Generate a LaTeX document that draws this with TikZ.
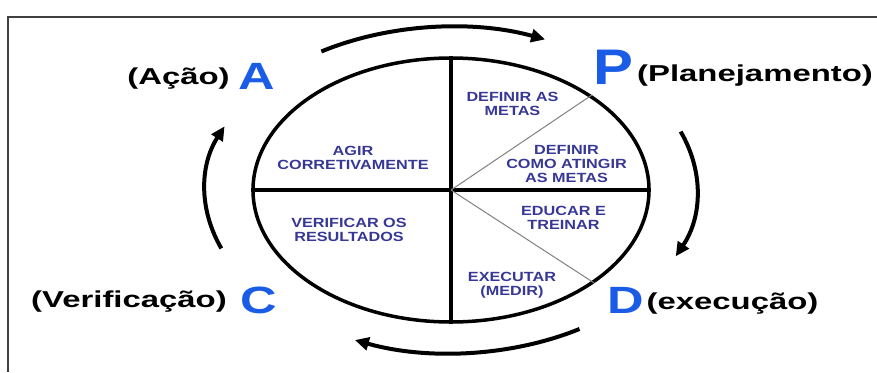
\documentclass[tikz,border=0pt]{standalone}
\usepackage{fontspec}
\setmainfont{Liberation Sans}
\usetikzlibrary{arrows.meta,shapes.geometric,calc}
\definecolor{bigblue}{RGB}{26,92,230}
\definecolor{navytext}{RGB}{55,55,150}
\begin{document}
\begin{tikzpicture}[x=1pt,y=1pt,
  inner/.style={font=\bfseries\fontsize{13.3}{14}\selectfont, text=navytext, align=center, xscale=1.22, inner sep=0pt},
  lbl/.style={font=\bfseries\fontsize{23}{25}\selectfont, xscale=1.43, inner sep=0pt},
  big/.style={font=\bfseries\fontsize{38}{40}\selectfont, text=bigblue, xscale=1.33, inner sep=0pt},
  cyc/.style={line width=4pt, -{Triangle[length=14pt,width=13pt]}},
  bold line/.style={line width=3.5pt},
  split line/.style={line width=1pt, gray}]
\useasboundingbox (0,0) rectangle (877,-372);
% frame
\coordinate (f1) at (8,-372);
\coordinate (f2) at (8,-17);
\coordinate (f3) at (877,-17);
\draw[line width=1.5pt, black!75] (f1) -- (f2) -- (f3);
% circle
\coordinate (c) at (451,-190);
\node[draw, ellipse, bold line, minimum width=396pt, minimum height=264pt, inner sep=0pt] (E) at (c) {};
\draw[bold line] (E.north) -- (E.south);
\draw[bold line] (E.west) -- (E.east);
\draw[split line] (E.center) -- (E.34);
\draw[split line] (E.center) -- (E.-33.5);
% inner texts
\node[inner] (t1) at (512.5,-103.5) {DEFINIR AS\\METAS};
\node[inner] (t2) at (566.5,-163.5) {DEFINIR\\COMO ATINGIR\\AS METAS};
\node[inner] (t3) at (563.5,-218) {EDUCAR E\\TREINAR};
\node[inner] (t4) at (512,-285) {EXECUTAR\\(MEDIR)};
\node[inner] (t5) at (353,-158) {AGIR\\CORRETIVAMENTE};
\node[inner] (t6) at (349,-229.5) {VERIFICAR OS\\RESULTADOS};
% big letters
\node[big] (A) at (257,-76.5) {A};
\node[big, font=\bfseries\fontsize{50}{52}\selectfont, xscale=0.9] (P) at (613,-67) {P};
\node[big] (C) at (258.5,-300) {C};
\node[big] (D) at (625.5,-300) {D};
% labels
\node[lbl] (la) at (178.5,-79) {(Ação)};
\node[lbl] (lp) at (755,-76) {(Planejamento)};
\node[lbl] (lc) at (129,-302) {(Verificação)};
\node[lbl] (ld) at (732.5,-304) {(execução)};
% cycle arrows
\draw[cyc] ($(c)+(121.8:246 and 163)$) arc[start angle=121.8, end angle=67.5, x radius=246, y radius=163];
\draw[cyc] ($(c)+(21:246 and 163)$) arc[start angle=21, end angle=-24, x radius=246, y radius=163];
\draw[cyc] ($(c)+(-58.5:246 and 163)$) arc[start angle=-58.5, end angle=-113, x radius=246, y radius=163];
\draw[cyc] ($(c)+(201:246 and 163)$) arc[start angle=201, end angle=157, x radius=246, y radius=163];
\end{tikzpicture}
\end{document}
